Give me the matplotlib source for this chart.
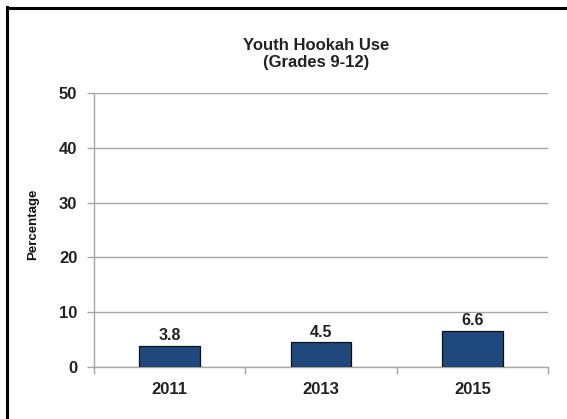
import matplotlib
matplotlib.use("Agg")
import matplotlib.pyplot as plt
from matplotlib.lines import Line2D
import numpy as np

years = ["2011", "2013", "2015"]
values = [3.8, 4.5, 6.6]
yticks = [0, 10, 20, 30, 40, 50]
title = "Youth Hookah Use\n(Grades 9-12)"
ylabel = "Percentage"

W, H = 567, 419
fig = plt.figure(figsize=(W / 100, H / 100), dpi=100)
plt.rcParams['font.family'] = ["Liberation Sans", "DejaVu Sans"]
txt = "#222222"

ax = fig.add_axes([94 / W, (H - 367) / H, 454 / W, 274 / H])
x = np.arange(len(years))
ax.bar(x, values, width=0.4, color="#1F497D", edgecolor="#111111", linewidth=0.9, zorder=3)
for xi, v in zip(x, values):
    ax.annotate(f"{v}", (xi, v), xytext=(0, 2), textcoords="offset points",
                ha="center", va="bottom", fontsize=11.5, fontweight="bold", color=txt, zorder=4)

ax.set_xlim(-0.5, len(years) - 0.5)
ax.set_ylim(0, 50)
ax.set_yticks(yticks)
ax.set_yticklabels([str(t) for t in yticks], fontsize=12, fontweight="bold", color=txt)
ax.yaxis.grid(True, color="#a6a6a6", linewidth=1.0, zorder=0)
ax.set_axisbelow(True)

ax.set_xticks(x)
ax.set_xticklabels(years, fontsize=12, fontweight="bold", color=txt)
ax.tick_params(axis="x", length=0, pad=11)
ax.set_xticks(np.arange(-0.5, len(years)), minor=True)
ax.tick_params(axis="x", which="minor", length=5, color="#a6a6a6", width=1)
ax.tick_params(axis="y", length=5, color="#a6a6a6", width=1, pad=7)

for s in ["top", "right"]:
    ax.spines[s].set_visible(False)
for s in ["left", "bottom"]:
    ax.spines[s].set_color("#a6a6a6")
    ax.spines[s].set_linewidth(1.0)

fig.text(316 / W, 1 - 54 / H, title, ha="center", va="center", fontsize=12,
         fontweight="bold", color=txt, linespacing=1.1)
fig.text(33 / W, 1 - 224 / H, ylabel, rotation=90, ha="center", va="center",
         fontsize=9.5, fontweight="bold", color="#111111")

fig.add_artist(Line2D([6.5 / W, 6.5 / W], [0, 1 - 7 / H], transform=fig.transFigure,
                      color="black", linewidth=2.2, solid_capstyle="projecting"))
fig.add_artist(Line2D([6.5 / W, 1], [1 - 8.5 / H, 1 - 8.5 / H], transform=fig.transFigure,
                      color="black", linewidth=2.2, solid_capstyle="projecting"))

fig.savefig("out.png", dpi=100)
